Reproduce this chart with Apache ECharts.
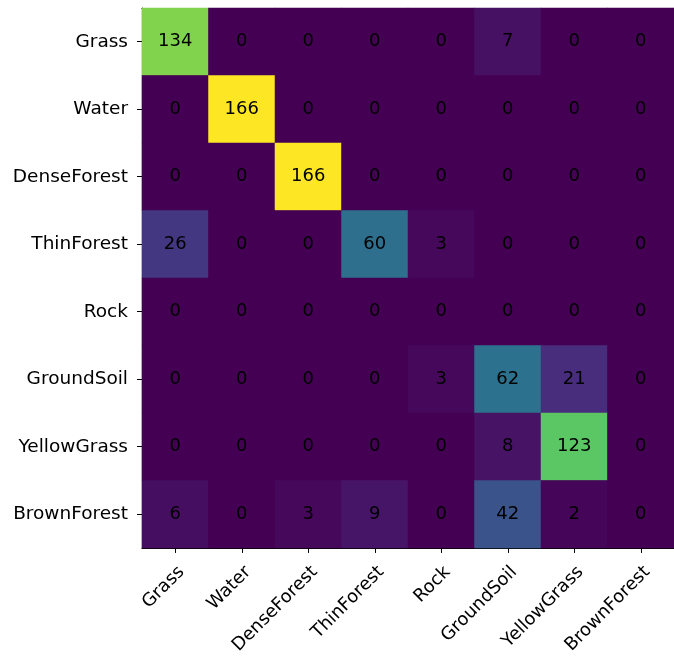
<!DOCTYPE html>
<html>
<head>
<meta charset="utf-8">
<script src="https://cdn.jsdelivr.net/npm/echarts@6/dist/echarts.min.js"></script>
<style>
  html, body { margin: 0; padding: 0; background: #fff; }
  #chart { width: 674px; height: 657px; }
</style>
</head>
<body>
<div id="chart"></div>
<script>
// Class names shared by both axes (true class on rows, predicted class on columns)
const classes = ['Grass', 'Water', 'DenseForest', 'ThinForest', 'Rock', 'GroundSoil', 'YellowGrass', 'BrownForest'];

// Confusion-matrix counts, one array per true class
const rowGrass       = [134, 0, 0, 0, 0, 7, 0, 0];
const rowWater       = [0, 166, 0, 0, 0, 0, 0, 0];
const rowDenseForest = [0, 0, 166, 0, 0, 0, 0, 0];
const rowThinForest  = [26, 0, 0, 60, 3, 0, 0, 0];
const rowRock        = [0, 0, 0, 0, 0, 0, 0, 0];
const rowGroundSoil  = [0, 0, 0, 0, 3, 62, 21, 0];
const rowYellowGrass = [0, 0, 0, 0, 0, 8, 123, 0];
const rowBrownForest = [6, 0, 3, 9, 0, 42, 2, 0];

const matrix = [rowGrass, rowWater, rowDenseForest, rowThinForest, rowRock, rowGroundSoil, rowYellowGrass, rowBrownForest];

// Viridis colour ramp
const viridis = ['#440154', '#48186a', '#472d7b', '#424086', '#3b528b', '#33638d', '#2c728e', '#26828e',
  '#21918c', '#1fa088', '#28ae80', '#3fbc73', '#5ec962', '#84d44b', '#addc30', '#d8e219', '#fde725'];

const cells = [];
matrix.forEach((row, yi) => row.forEach((v, xi) => cells.push([xi, yi, v])));
const vmax = Math.max(...cells.map(c => c[2]));

const font = 'DejaVu Sans';
const chart = echarts.init(document.getElementById('chart'), null, { renderer: 'canvas' });

const frameAxis = {
  axisLine: { show: true, lineStyle: { color: '#000', width: 1.2 } },
  axisTick: { show: false },
  axisLabel: { show: false },
  splitLine: { show: false }
};

chart.setOption({
  animation: false,
  backgroundColor: '#fff',
  grid: {
    left: 142, top: 8, width: 540, height: 541,
    show: true, backgroundColor: viridis[0], borderWidth: 0
  },
  xAxis: [
    {
      type: 'category',
      data: classes,
      position: 'bottom',
      axisLine: { show: true, lineStyle: { color: '#000', width: 1.2 } },
      axisTick: { show: true, alignWithLabel: true, length: 5, lineStyle: { color: '#000', width: 1 } },
      axisLabel: {
        rotate: 45, margin: 15, verticalAlign: 'top',
        color: '#000', fontSize: 18, fontFamily: font, interval: 0
      },
      splitLine: { show: false }
    },
    Object.assign({ type: 'category', data: classes, position: 'top' }, frameAxis)
  ],
  yAxis: [
    {
      type: 'category',
      data: classes,
      inverse: true,
      position: 'left',
      axisLine: { show: true, lineStyle: { color: '#000', width: 1.2 } },
      axisTick: { show: true, alignWithLabel: true, length: 5, lineStyle: { color: '#000', width: 1 } },
      axisLabel: { margin: 14, color: '#000', fontSize: 18.5, fontFamily: font, interval: 0 },
      splitLine: { show: false }
    },
    Object.assign({ type: 'category', data: classes, inverse: true, position: 'right' }, frameAxis)
  ],
  visualMap: {
    show: false,
    type: 'continuous',
    min: 0,
    max: vmax,
    dimension: 2,
    seriesIndex: 0,
    inRange: { color: viridis }
  },
  series: [{
    type: 'heatmap',
    data: cells,
    label: {
      show: true,
      color: '#000',
      fontSize: 18,
      fontFamily: font,
      formatter: p => String(p.value[2])
    },
    itemStyle: { borderWidth: 0 },
    emphasis: { disabled: true }
  }]
});
</script>
</body>
</html>
